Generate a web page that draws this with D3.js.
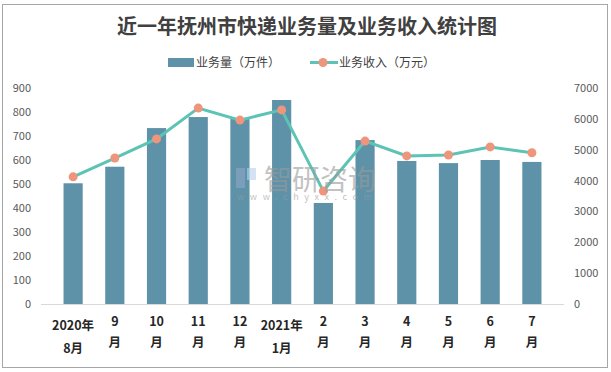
<!DOCTYPE html>
<html lang="zh">
<head>
<meta charset="utf-8">
<title>近一年抚州市快递业务量及业务收入统计图</title>
<script src="https://d3js.org/d3.v7.min.js"></script>
<style>
  body { margin: 0; background: #fff; }
  text { font-family: "Noto Sans CJK SC", "Noto Sans", sans-serif; }
</style>
</head>
<body>
<script>
// data
var months = ["2020年|8月", "9|月", "10|月", "11|月", "12|月", "2021年|1月", "2|月", "3|月", "4|月", "5|月", "6|月", "7|月"];
var volume = [503, 572, 733, 779, 775, 850, 421, 683, 596, 587, 600, 592];   // 万件
var revenue = [4120, 4730, 5350, 6350, 5960, 6290, 3660, 5280, 4800, 4830, 5090, 4900]; // 万元
var leftTicks = d3.range(0, 901, 100);
var rightTicks = d3.range(0, 7001, 1000);

var width = 611, height = 372;
var plotTop = 88, plotBottom = 304, plotLeft = 41, plotRight = 564;

var svg = d3.select("body").append("svg")
    .attr("width", width)
    .attr("height", height);

svg.append("rect")
    .attr("x", 2.5).attr("y", 4.5)
    .attr("width", 605).attr("height", 363)
    .attr("fill", "#fff")
    .attr("stroke", "#a6a6a6");

svg.append("text")
    .attr("x", 307).attr("y", 34)
    .attr("text-anchor", "middle")
    .attr("font-family", "'Noto Serif CJK SC', 'Noto Sans CJK SC', serif")
    .attr("font-weight", "bold")
    .attr("font-size", 20)
    .attr("fill", "#404040")
    .text("近一年抚州市快递业务量及业务收入统计图");

var x = d3.scaleBand().domain(months).range([plotLeft, plotRight]).padding(0.54);
var yL = d3.scaleLinear().domain([0, 900]).range([plotBottom, plotTop]);
var yR = d3.scaleLinear().domain([0, 7000]).range([plotBottom, plotTop]);

// bars
svg.selectAll(".bar")
    .data(volume)
    .enter()
    .append("rect")
    .attr("class", "bar")
    .attr("x", function(d, i) { return x(months[i]); })
    .attr("y", function(d) { return yL(d); })
    .attr("width", x.bandwidth())
    .attr("height", function(d) { return plotBottom - yL(d); })
    .attr("fill", "#5e92a8");

// baseline
svg.append("line")
    .attr("x1", plotLeft).attr("x2", plotRight)
    .attr("y1", plotBottom + 0.5).attr("y2", plotBottom + 0.5)
    .attr("stroke", "#d9d9d9");

// line
var cx = function(d, i) { return x(months[i]) + x.bandwidth() / 2; };
var line = d3.line().x(cx).y(function(d) { return yR(d); });
svg.append("path")
    .datum(revenue)
    .attr("d", line)
    .attr("fill", "none")
    .attr("stroke", "#5cc3b5")
    .attr("stroke-width", 3);

svg.selectAll(".dot")
    .data(revenue)
    .enter()
    .append("circle")
    .attr("class", "dot")
    .attr("cx", cx)
    .attr("cy", function(d) { return yR(d); })
    .attr("r", 4.5)
    .attr("fill", "#ee957c");

// watermark, drawn over the marks
var wm = svg.append("g").attr("opacity", 0.6);
wm.append("rect").attr("x", 236).attr("y", 168).attr("width", 9).attr("height", 20).attr("fill", "#8fa6c9");
wm.append("rect").attr("x", 247).attr("y", 168).attr("width", 9).attr("height", 12).attr("fill", "#b5d3ee");
wm.append("text").attr("x", 264).attr("y", 190).attr("font-size", 28).attr("fill", "#9a9a9a").text("智研咨询");
wm.append("text").attr("x", 237).attr("y", 200).attr("font-size", 9).attr("fill", "#9a9a9a")
    .attr("letter-spacing", 5.6).text("www.chyxx.com");

// left axis
var axL = svg.append("g")
    .attr("transform", "translate(31,0)")
    .call(d3.axisLeft(yL).tickValues(leftTicks).tickSize(0).tickPadding(0));
axL.select(".domain").remove();
axL.selectAll("text").attr("font-size", 11).attr("fill", "#595959")
    .attr("font-family", "'Liberation Sans', Arial, sans-serif");

// right axis
var axR = svg.append("g")
    .attr("transform", "translate(574,0)")
    .call(d3.axisRight(yR).tickValues(rightTicks).tickFormat(d3.format("d")).tickSize(0).tickPadding(0));
axR.select(".domain").remove();
axR.selectAll("text").attr("font-size", 11).attr("fill", "#595959")
    .attr("font-family", "'Liberation Sans', Arial, sans-serif");

// x labels, two lines
var xl = svg.selectAll(".xl")
    .data(months)
    .enter()
    .append("text")
    .attr("class", "xl")
    .attr("text-anchor", "middle")
    .attr("font-size", 12.5)
    .attr("font-weight", "bold")
    .attr("fill", "#262626");
xl.each(function(m) {
    var parts = m.split("|");
    var two = parts[0].length > 2;
    var t = d3.select(this);
    var cxm = x(m) + x.bandwidth() / 2;
    t.append("tspan").attr("x", cxm).attr("y", two ? 330 : 326).text(parts[0]);
    t.append("tspan").attr("x", cxm).attr("y", two ? 352.5 : 346.5).text(parts[1]);
});

// legend
var lg = svg.append("g");
lg.append("rect").attr("x", 168).attr("y", 58).attr("width", 26).attr("height", 9).attr("fill", "#5e92a8");
lg.append("text").attr("x", 196).attr("y", 66.5).attr("font-size", 12).attr("fill", "#404040").text("业务量（万件）");
lg.append("line").attr("x1", 310).attr("x2", 338).attr("y1", 62.5).attr("y2", 62.5)
    .attr("stroke", "#5cc3b5").attr("stroke-width", 3);
lg.append("circle").attr("cx", 323).attr("cy", 62.5).attr("r", 4.5).attr("fill", "#ee957c");
lg.append("text").attr("x", 339).attr("y", 66.5).attr("font-size", 12).attr("fill", "#404040").text("业务收入（万元）");
</script>
</body>
</html>
